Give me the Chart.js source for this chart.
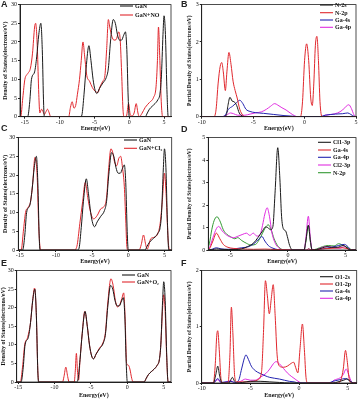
<!DOCTYPE html>
<html lang="en">
<head>
<meta charset="UTF-8">
<title>Density of States</title>
<style>
  body { margin: 0; background: #fff; }
  #wrap { position: relative; width: 359px; height: 400px; overflow: hidden; }
  canvas { position: absolute; }
  .tag { position: absolute; font: bold 9px "Liberation Sans", Arial, sans-serif; color: #222; line-height: 9px; }
</style>
</head>
<body>
<div id="wrap">
  <canvas id="cA" width="180" height="133" style="left:0;top:0"></canvas>
  <canvas id="cB" width="179" height="133" style="left:180px;top:0"></canvas>
  <canvas id="cC" width="180" height="133" style="left:0;top:133px"></canvas>
  <canvas id="cD" width="179" height="133" style="left:180px;top:133px"></canvas>
  <canvas id="cE" width="180" height="134" style="left:0;top:266px"></canvas>
  <canvas id="cF" width="179" height="134" style="left:180px;top:266px"></canvas>
  <div class="tag" style="left:1px;top:0">A</div>
  <div class="tag" style="left:181px;top:0">B</div>
  <div class="tag" style="left:1px;top:124px">C</div>
  <div class="tag" style="left:181px;top:125px">D</div>
  <div class="tag" style="left:1px;top:259px">E</div>
  <div class="tag" style="left:181px;top:259px">F</div>
</div>

<script src="https://cdn.jsdelivr.net/npm/chart.js"></script>
<script>
// [energy (eV), states (electrons/eV)] pairs

// total DOS, pristine GaN (same curve in A, C, E)
const ganDos = [[-16,0],[-14.6,0],[-14.3,4],[-14.05,10],[-13.6,12],[-13.3,16],[-13.0,22],[-12.7,25],[-12.5,18],[-12.3,3],[-12.2,0],
  [-7.0,0],[-6.8,0.5],[-6.5,6],[-6.2,13],[-5.8,19],[-5.5,15],[-5.2,10],[-4.9,7],[-4.65,6.2],[-4.3,7.5],[-3.8,9],[-3.3,10.5],[-3.0,13],
  [-2.7,20],[-2.3,26],[-2.0,25],[-1.7,22],[-1.4,20.5],[-1.1,20.5],[-0.8,21.8],[-0.55,22.7],[-0.35,18],[-0.15,5],[0,0],
  [2.3,0],[2.6,1],[2.9,2],[3.3,2.8],[3.7,3.5],[4.1,4.5],[4.4,6],[4.6,10],[4.85,22],[5.0,27],[5.2,22],[5.4,8],[5.6,0],[6,0]];

// A: GaN+NO
const noDos = [[-16,0],[-15.6,0],[-15.3,5],[-15.0,10],[-14.6,11.5],[-14.2,13],[-13.9,17],[-13.6,24],[-13.45,25],[-13.2,18],[-13.0,6],
  [-12.85,1],[-12.6,2],[-12.4,1.4],[-12.2,0.6],[-12.0,1.2],[-11.75,2],[-11.5,1],[-11.3,0],
  [-8.7,0],[-8.45,2.5],[-8.2,4],[-7.95,2.3],[-7.7,3],[-7.45,6],[-7.15,10],[-6.9,15],[-6.65,20],[-6.4,16],[-6.1,11],[-5.7,9.5],
  [-5.3,7.8],[-4.9,6.8],[-4.5,6.5],[-4.2,8],[-3.8,9.5],[-3.5,11],[-3.25,18],[-3.0,26],[-2.8,24],[-2.5,21.5],[-2.2,20.5],[-1.9,20.6],
  [-1.5,22.7],[-1.3,20.5],[-1.1,12],[-0.9,2],[-0.75,0],[-0.4,0.2],[-0.1,3.5],[0.15,0.5],[0.4,0.2],[0.7,1],[1.0,3.5],[1.25,1],[1.45,0],
  [1.8,0.8],[2.3,2.5],[2.9,3.8],[3.5,5.2],[3.85,8],[4.05,15],[4.2,24],[4.4,15],[4.6,4],[4.8,0],[6,0]];

// B: partial DOS, NO adsorption
const bN2s = [[-10,0],[-7.9,0],[-7.6,0.05],[-7.45,0.3],[-7.25,0.52],[-7.05,0.42],[-6.85,0.4],[-6.6,0.3],[-6.35,0.1],[-6.0,0.01],[-5.8,0],[5,0]];
const bN2p = [[-10,0],[-8.8,0],[-8.6,0.2],[-8.4,0.9],[-8.2,1.35],[-8.05,1.45],[-7.9,1.2],[-7.7,0.7],[-7.55,1.2],[-7.35,1.72],[-7.15,1.4],
  [-6.95,0.95],[-6.75,0.7],[-6.55,0.5],[-6.3,0.2],[-6.0,0.04],[-5.7,0],[-0.4,0],[-0.2,0.4],[0.0,1.5],[0.2,1.95],[0.4,1.5],[0.6,0.5],
  [0.75,0.3],[0.9,0.9],[1.05,1.9],[1.2,2.15],[1.35,1.5],[1.5,0.4],[1.7,0],[5,0]];
const bGa4s = [[-10,0],[-8.0,0],[-7.7,0.05],[-7.4,0.2],[-7.0,0.28],[-6.6,0.38],[-6.3,0.44],[-6.0,0.35],[-5.7,0.2],[-5.3,0.14],[-4.8,0.11],
  [-4.0,0.09],[-3.0,0.06],[-2.0,0.03],[-1.0,0.01],[-0.6,0],[1.5,0],[2.0,0.04],[3.0,0.07],[3.7,0.08],[4.2,0.1],[4.5,0.06],[4.8,0.01],[5,0]];
const bGa4p = [[-10,0],[-8.0,0],[-7.6,0.04],[-7.2,0.1],[-6.9,0.08],[-6.5,0.04],[-5.8,0.04],[-5.3,0.07],[-4.8,0.1],[-4.2,0.13],[-3.7,0.2],
  [-3.3,0.28],[-2.9,0.35],[-2.6,0.31],[-2.2,0.24],[-1.8,0.18],[-1.4,0.1],[-1.0,0.03],[-0.7,0],[1.6,0],[2.0,0.04],[2.6,0.06],[3.2,0.1],
  [3.7,0.18],[4.05,0.28],[4.3,0.32],[4.55,0.22],[4.8,0.05],[5,0]];

// C: GaN+Cl2
const cl2Dos = [[-16,0],[-14.8,0],[-14.5,5],[-14.2,10],[-13.8,11.5],[-13.5,13],[-13.2,18],[-12.9,24.7],[-12.6,20],[-12.35,5],[-12.1,0],
  [-7.5,0],[-7.1,1],[-6.7,7],[-6.3,13],[-5.95,18],[-5.6,14],[-5.2,10],[-4.8,8.3],[-4.3,9.2],[-3.8,11],[-3.4,11.5],[-3.0,14],[-2.7,22],
  [-2.4,27],[-2.15,26],[-1.9,23.5],[-1.6,22.5],[-1.3,24.5],[-1.05,25],[-0.8,22],[-0.55,17],[-0.35,8],[-0.2,1],[-0.05,0],
  [1.5,0],[1.8,1.5],[2.1,4],[2.4,1.5],[2.6,0.2],[2.8,1],[3.1,3],[3.6,3.4],[4.1,4.5],[4.4,7],[4.7,13],[5.0,20.5],[5.25,14],[5.5,3],[5.7,0],[6,0]];

// D: partial DOS, Cl2 adsorption
const dCl1 = [[-7,0],[-6.5,0.02],[-6.2,0.05],[-5.8,0.03],[-4.5,0.02],[-4.0,0.05],[-3.5,0.15],[-3.0,0.3],[-2.6,0.55],[-2.2,0.85],[-1.95,1.02],
  [-1.75,1.0],[-1.5,0.9],[-1.3,1.05],[-1.12,2.5],[-0.88,4.55],[-0.7,3.2],[-0.55,1.5],[-0.4,0.95],[-0.2,0.85],[-0.05,0.6],[0.15,0.2],[0.4,0],
  [1.4,0],[1.55,0.4],[1.77,1.1],[1.95,0.4],[2.1,0],[2.5,0.02],[3.0,0.1],[3.4,0.15],[3.8,0.12],[4.3,0.12],[4.8,0.2],[5.0,0.15],[5.3,0.02],[5.5,0],[6,0]];
const dGa4s = [[-7,0],[-6.8,0.05],[-6.5,0.4],[-6.2,0.75],[-5.9,0.5],[-5.6,0.25],[-5.2,0.12],[-4.7,0.07],[-4.0,0.05],[-3.0,0.03],[-2.0,0.04],
  [-1.0,0.02],[0,0.01],[0.5,0],[1.6,0],[1.8,0.05],[2.0,0],[3.0,0.05],[4.0,0.08],[4.7,0.1],[5.2,0.05],[5.5,0],[6,0]];
const dGa4p = [[-7,0],[-6.6,0.03],[-6.2,0.1],[-5.8,0.05],[-5.2,0.03],[-4.5,0.06],[-4.0,0.1],[-3.4,0.15],[-2.9,0.3],[-2.5,0.5],[-2.25,0.6],
  [-2.0,0.4],[-1.7,0.2],[-1.3,0.08],[-0.8,0.01],[-0.5,0],[1.6,0],[1.8,0.05],[2.0,0],[3.0,0.05],[3.8,0.12],[4.4,0.2],[4.9,0.25],[5.2,0.15],[5.5,0],[6,0]];
const dCl2 = [[-7,0],[-6.8,0.1],[-6.5,0.55],[-6.2,0.95],[-6.0,1.05],[-5.7,0.85],[-5.4,0.7],[-5.1,0.6],[-4.7,0.55],[-4.3,0.62],[-3.9,0.7],
  [-3.6,0.75],[-3.3,0.65],[-3.0,0.75],[-2.7,0.62],[-2.4,0.7],[-2.2,1.1],[-2.0,1.6],[-1.8,1.88],[-1.6,1.5],[-1.4,0.8],[-1.1,0.3],[-0.8,0.1],
  [-0.4,0],[1.4,0],[1.55,0.5],[1.77,1.5],[1.95,0.5],[2.1,0],[2.5,0.02],[3.0,0.12],[3.5,0.15],[4.0,0.1],[4.5,0.08],[4.9,0.15],[5.2,0.05],[5.5,0],[6,0]];
const dN2p = [[-7,0],[-6.8,0.3],[-6.6,0.9],[-6.4,1.3],[-6.15,1.48],[-5.9,1.3],[-5.6,0.9],[-5.3,0.7],[-5.0,0.6],[-4.6,0.5],[-4.35,0.55],
  [-4.0,0.42],[-3.6,0.3],[-3.2,0.22],[-2.8,0.25],[-2.5,0.45],[-2.2,0.75],[-1.95,1.0],[-1.7,1.12],[-1.45,0.9],[-1.2,0.5],[-0.9,0.2],
  [-0.6,0.05],[-0.4,0],[1.4,0],[1.55,0.35],[1.77,1.1],[1.95,0.35],[2.1,0],[2.5,0.05],[3.0,0.15],[3.5,0.2],[4.0,0.18],[4.4,0.28],
  [4.8,0.2],[5.2,0.1],[5.5,0.02],[6,0]];

// E: GaN+O2
const o2Dos = [[-16,0],[-14.7,0],[-14.4,4],[-14.1,10],[-13.7,12],[-13.3,16],[-13.0,22],[-12.75,25.3],[-12.5,18],[-12.3,3],[-12.1,0],
  [-8.9,0],[-8.7,1.5],[-8.45,4],[-8.2,1.5],[-8.0,0],[-7.3,0],[-7.15,3],[-7.0,7.7],[-6.85,3],[-6.7,0.5],[-6.5,6],[-6.2,13],[-5.85,19],
  [-5.5,15],[-5.2,10],[-4.9,7],[-4.6,6.3],[-4.3,7.5],[-3.8,9.2],[-3.3,10.8],[-3.0,13.5],[-2.7,21],[-2.25,27.8],[-1.95,26],[-1.65,22],
  [-1.35,20.2],[-1.05,20.8],[-0.75,22.5],[-0.5,24],[-0.3,17],[-0.1,5],[0.15,4.5],[0.35,3.5],[0.6,1],[0.8,0],
  [2.3,0],[2.6,1],[2.9,2],[3.3,2.8],[3.7,3.5],[4.1,4.5],[4.4,6],[4.6,10],[4.85,20],[5.0,23.5],[5.2,19],[5.4,7],[5.6,0],[6,0]];

// F: partial DOS, O2 adsorption
const fO2s = [[-10,0],[-8.8,0],[-8.55,0.15],[-8.35,0.3],[-8.15,0.12],[-7.9,0],[-7.2,0],[-7.0,0.06],[-6.85,0.1],[-6.65,0.04],[-6.4,0],
  [-5.8,0.01],[-5.0,0.03],[-4.0,0.03],[-3.0,0.02],[-2.0,0.01],[-1.0,0],[3.5,0],[4.0,0.02],[4.6,0.05],[4.9,0.07],[5.2,0.04],[5.6,0],[6,0]];
const fO2p = [[-10,0],[-8.8,0],[-8.6,0.35],[-8.45,0.85],[-8.35,0.93],[-8.2,0.6],[-8.0,0.05],[-7.8,0],[-7.3,0],[-7.1,0.5],[-6.95,1.35],
  [-6.8,0.9],[-6.6,0.1],[-6.4,0.02],[-5.5,0.02],[-4.7,0.03],[-4.2,0.06],[-3.85,0.2],[-3.65,0.9],[-3.45,1.82],[-3.25,1.55],[-3.05,1.23],
  [-2.85,1.5],[-2.65,1.75],[-2.45,1.2],[-2.25,0.5],[-2.0,0.3],[-1.6,0.28],[-1.2,0.3],[-0.8,0.35],[-0.55,0.37],[-0.35,0.28],[-0.12,0.18],
  [0.1,0.6],[0.35,1.05],[0.55,0.6],[0.72,0.1],[0.9,0],[4.0,0],[4.3,0.05],[4.55,0.25],[4.78,0.58],[4.95,0.4],[5.15,0.08],[5.4,0],[6,0]];
const fGa4s = [[-10,0],[-8.8,0],[-8.35,0.08],[-8.0,0.01],[-7.0,0.03],[-6.6,0.01],[-6.2,0.05],[-5.9,0.25],[-5.6,0.45],[-5.45,0.5],
  [-5.2,0.42],[-4.9,0.3],[-4.5,0.22],[-4.0,0.17],[-3.5,0.13],[-3.0,0.1],[-2.0,0.07],[-1.0,0.03],[-0.5,0.02],[0,0],[3.0,0],[3.5,0.03],
  [4.2,0.06],[4.8,0.08],[5.3,0.03],[5.6,0],[6,0]];
const fGa4p = [[-10,0],[-8.8,0],[-8.35,0.06],[-8.0,0],[-7.0,0.04],[-6.6,0],[-6.0,0.03],[-5.5,0.07],[-5.0,0.05],[-4.5,0.05],[-4.0,0.1],
  [-3.4,0.17],[-3.0,0.25],[-2.6,0.35],[-2.35,0.38],[-2.0,0.34],[-1.6,0.26],[-1.2,0.18],[-0.8,0.12],[-0.4,0.07],[0.0,0.02],[0.3,0],
  [3.2,0],[3.6,0.05],[4.2,0.09],[4.55,0.15],[4.85,0.25],[5.1,0.15],[5.4,0.02],[5.6,0],[6,0]];

// tick values
const totalTicksX = [-15, -10, -5, 0, 5];
const totalTicksY = [0, 5, 10, 15, 20, 25, 30];
const bTicksX = [-10, -5, 0, 5];
const bTicksY = [0, 1, 2, 3];
const dTicksX = [-5, 0, 5];
const dTicksY = [0, 1, 2, 3, 4, 5];
const fTicksX = [-10, -5, 0, 5];
const fTicksY = [0, 1, 2];

const BLACK = '#1a1a1a', RED = '#e0282e', BLUE = '#2424b0', MAGENTA = '#e02ee0', GREEN = '#339933';
const SERIF = '"Liberation Serif", "Times New Roman", serif';

// black box round the plot area
const framePlugin = {
    id: 'frame',
    afterDraw(chart) {
        const a = chart.chartArea, ctx = chart.ctx;
        ctx.save();
        ctx.strokeStyle = '#222';
        ctx.lineWidth = 0.8;
        ctx.strokeRect(a.left, a.top, a.right - a.left, a.bottom - a.top);
        ctx.restore();
    }
};

function makePanel(id, cfg) {
    const legendPlugin = {
        id: 'boxLegend',
        afterDraw(chart) {
            const ctx = chart.ctx;
            ctx.save();
            ctx.font = 'bold 6px ' + SERIF;
            ctx.textBaseline = 'middle';
            chart.data.datasets.forEach((ds, i) => {
                const y = cfg.legend.y[i];
                ctx.strokeStyle = ds.borderColor;
                ctx.lineWidth = 1.1;
                ctx.beginPath();
                ctx.moveTo(cfg.legend.x, y);
                ctx.lineTo(cfg.legend.x + 13, y);
                ctx.stroke();
                ctx.fillStyle = '#111';
                ctx.fillText(ds.label, cfg.legend.x + 15, y + 0.5);
            });
            ctx.restore();
        }
    };

    new Chart(document.getElementById(id), {
        type: 'line',
        data: {
            datasets: cfg.series.map(s => ({
                label: s.label,
                data: s.pts.map(p => ({ x: p[0], y: p[1] })),
                borderColor: s.color,
                borderWidth: 1,
                pointRadius: 0,
                fill: false,
                cubicInterpolationMode: 'monotone'
            }))
        },
        options: {
            responsive: false,
            animation: false,
            devicePixelRatio: 1,
            layout: { padding: cfg.pad },
            plugins: { legend: { display: false }, tooltip: { enabled: false } },
            scales: {
                x: {
                    type: 'linear',
                    min: cfg.xMin, max: cfg.xMax,
                    afterBuildTicks: s => { s.ticks = cfg.xTicks.map(v => ({ value: v })); },
                    afterFit: s => { s.height = cfg.xH; },
                    grid: { drawOnChartArea: false, tickLength: 2, color: '#222' },
                    border: { color: '#222' },
                    ticks: { font: { family: SERIF, size: 6 }, color: '#111', padding: 0, maxRotation: 0 },
                    title: { display: true, text: 'Energy(eV)', font: { family: SERIF, size: 6, weight: 'bold' }, color: '#111', padding: { top: 0, bottom: 1 } }
                },
                y: {
                    min: 0, max: cfg.yMax,
                    afterBuildTicks: s => { s.ticks = cfg.yTicks.map(v => ({ value: v })); },
                    afterFit: s => { s.width = cfg.yW; },
                    grid: { drawOnChartArea: false, tickLength: 2, color: '#222' },
                    border: { color: '#222' },
                    ticks: { font: { family: SERIF, size: 6 }, color: '#111', padding: 1 },
                    title: { display: true, text: cfg.yTitle, font: { family: SERIF, size: cfg.yTitleSize || 6, weight: 'bold' }, color: '#111', padding: { top: 0, bottom: 0 } }
                }
            }
        },
        plugins: [framePlugin, legendPlugin]
    });
}

const totalTitle = 'Density of States(electrons/eV)';
const partialTitle = 'Partial Density of States(electrons/eV)';

makePanel('cA', {
    series: [{ label: 'GaN', pts: ganDos, color: BLACK }, { label: 'GaN+NO', pts: noDos, color: RED }],
    xMin: -15.7, xMax: 6, xTicks: totalTicksX, yMax: 30, yTicks: totalTicksY, yTitle: totalTitle,
    pad: { left: 1.5, top: 3.3, right: 9, bottom: 0 }, yW: 18.5, xH: 16.3,
    legend: { x: 120, y: [6, 15] }
});
makePanel('cB', {
    series: [{ label: 'N-2s', pts: bN2s, color: BLACK }, { label: 'N-2p', pts: bN2p, color: RED },
             { label: 'Ga-4s', pts: bGa4s, color: BLUE }, { label: 'Ga-4p', pts: bGa4p, color: MAGENTA }],
    xMin: -10, xMax: 5, xTicks: bTicksX, yMax: 3, yTicks: bTicksY, yTitle: partialTitle, yTitleSize: 5.6,
    pad: { left: 6.5, top: 3.3, right: 3, bottom: 0 }, yW: 15.2, xH: 16.3,
    legend: { x: 140, y: [5, 12.7, 20, 27.3] }
});
makePanel('cC', {
    series: [{ label: 'GaN', pts: ganDos, color: BLACK }, { label: 'GaN+Cl₂', pts: cl2Dos, color: RED }],
    xMin: -15.2, xMax: 6, xTicks: totalTicksX, yMax: 30, yTicks: totalTicksY, yTitle: totalTitle,
    pad: { left: 1.5, top: 4, right: 8.3, bottom: 0 }, yW: 16.8, xH: 16,
    legend: { x: 124, y: [7, 15.3] }
});
makePanel('cD', {
    series: [{ label: 'Cl1-3p', pts: dCl1, color: BLACK }, { label: 'Ga-4s', pts: dGa4s, color: RED },
             { label: 'Ga-4p', pts: dGa4p, color: BLUE }, { label: 'Cl2-3p', pts: dCl2, color: MAGENTA },
             { label: 'N-2p', pts: dN2p, color: GREEN }],
    xMin: -6.9, xMax: 5.9, xTicks: dTicksX, yMax: 5, yTicks: dTicksY, yTitle: partialTitle, yTitleSize: 5.6,
    pad: { left: 6.5, top: 3, right: 3, bottom: 0 }, yW: 21.8, xH: 16,
    legend: { x: 138, y: [9.3, 17, 24.3, 32, 39.7] }
});
makePanel('cE', {
    series: [{ label: 'GaN', pts: ganDos, color: BLACK }, { label: 'GaN+O₂', pts: o2Dos, color: RED }],
    xMin: -15.2, xMax: 6, xTicks: totalTicksX, yMax: 30, yTicks: totalTicksY, yTitle: totalTitle,
    pad: { left: 0, top: 4, right: 9, bottom: 0 }, yW: 16.7, xH: 18,
    legend: { x: 122, y: [9, 16] }
});
makePanel('cF', {
    series: [{ label: 'O1-2s', pts: fO2s, color: BLACK }, { label: 'O1-2p', pts: fO2p, color: RED },
             { label: 'Ga-4s', pts: fGa4s, color: BLUE }, { label: 'Ga-4p', pts: fGa4p, color: MAGENTA }],
    xMin: -10, xMax: 5.93, xTicks: fTicksX, yMax: 2, yTicks: fTicksY, yTitle: partialTitle, yTitleSize: 5.6,
    pad: { left: 6.5, top: 4, right: 2.3, bottom: 0 }, yW: 15.2, xH: 17,
    legend: { x: 140, y: [10.7, 18, 25, 32.3] }
});
</script>
</body>
</html>
